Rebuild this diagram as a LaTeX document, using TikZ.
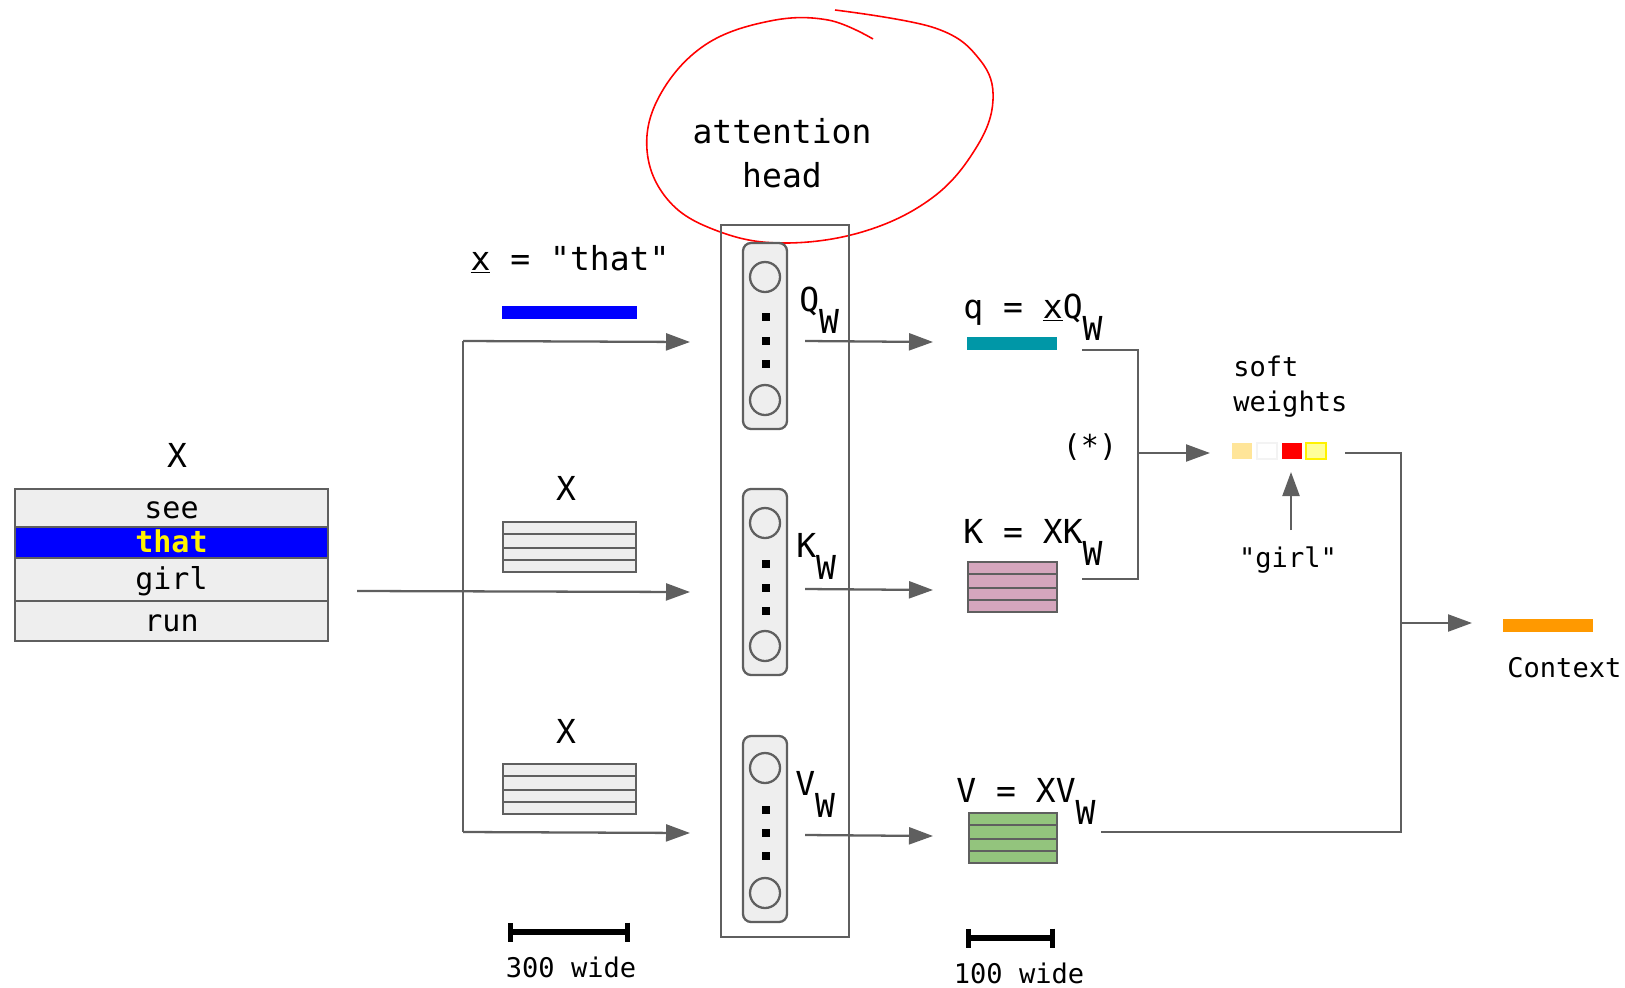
\documentclass[tikz,border=0pt]{standalone}
\usepackage{fontspec}
\setmonofont{DejaVu Sans Mono}
\renewcommand{\familydefault}{\ttdefault}
\usetikzlibrary{arrows.meta,positioning}

\definecolor{linegray}{HTML}{5F5F5F}
\definecolor{cellgray}{HTML}{EEEEEE}
\definecolor{qteal}{HTML}{0097A7}
\definecolor{kpink}{HTML}{D5A6BD}
\definecolor{vgreen}{HTML}{93C47D}
\definecolor{ctxorange}{HTML}{FF9900}
\definecolor{wsand}{HTML}{FFE599}
\definecolor{wpale}{HTML}{FFFF99}
\definecolor{wrim}{HTML}{F3F3F3}

\newcommand{\pxu}{0.02cm}
\newcommand{\bigtxt}{\fontsize{18.8}{25}\selectfont}
\newcommand{\midtxt}{\fontsize{17.1}{22}\selectfont}
\newcommand{\smalltxt}{\fontsize{15.4}{19.9}\selectfont}
\newcommand{\subw}{\raisebox{-0.68em}{W}}

\begin{document}
\begin{tikzpicture}[x=\pxu, y=-\pxu,
    ln/.style={draw=linegray, line width=1.3pt},
    arr/.style={ln, -{Triangle[length=0.48cm, width=0.34cm]}},
    cell/.style={ln, fill=cellgray, minimum width=313*\pxu, inner sep=0pt,
        font=\midtxt, text height=12.5pt, text depth=1pt},
    bar/.style={inner sep=0pt, minimum height=13*\pxu},
    wsq/.style={inner sep=0pt, minimum width=20*\pxu, minimum height=16*\pxu},
    lbl/.style={inner sep=0pt, anchor=base, font=\bigtxt},
    lblw/.style={lbl, anchor=base west},
    scalebar/.style={draw=black, line width=3pt, {Bar[width=0.38cm]}-{Bar[width=0.38cm]}}]
    \useasboundingbox (0,0) rectangle (1625,987);

    % input table X
    \node[lbl] (xtab) at (177,467) {X};
    \node[cell, minimum height=38*\pxu] (see) at (171.5,508) {see};
    \node[cell, minimum height=31*\pxu, fill=blue, text=yellow, font=\midtxt\bfseries] (that) at (171.5,542.5) {that};
    \node[cell, minimum height=43*\pxu] (girl) at (171.5,579.5) {girl};
    \node[cell, minimum height=40*\pxu] (run) at (171.5,621) {run};

    % inputs of the head
    \node[lbl] (xeq) at (570,270) {\underline{x} = "that"};
    \node[bar, fill=blue, minimum width=135*\pxu] (xbar) at (569.5,312.5) {};
    \node[lbl] (xk) at (566,500) {X};
    \node[lbl] (xv) at (566,743) {X};
    \foreach \mx/\my/\w/\col in {503/522/133/cellgray, 503/764/133/cellgray, 968/562/89/kpink, 969/813/88/vgreen} {
        \draw[ln, fill=\col] (\mx,\my) rectangle ++(\w,50);
        \foreach \dy in {12,26,38}
            \draw[ln] (\mx,\my+\dy) -- ++(\w,0);
    }

    \coordinate (qsplit) at (463,341);
    \coordinate (vsplit) at (463,832);
    \coordinate (tabout) at (357,591);
    \coordinate (qin) at (690,342);
    \coordinate (kin) at (690,592);
    \coordinate (vin) at (690,833);
    \draw[ln] (qsplit) -- (vsplit);
    \draw[arr] (qsplit) -- (qin);
    \draw[arr] (tabout) -- (kin);
    \draw[arr] (vsplit) -- (vin);

    % attention head
    \draw[red, line width=0.9pt] plot[smooth, tension=0.65] coordinates {(835,10) (935,28) (980,60) (993,100) (976,148) (932,198) (862,232) (780,243) (715,230) (668,200) (647,150) (660,95) (705,45) (770,21) (828,20) (873,39)};
    \node[inner sep=0pt, align=center, font=\bigtxt] (headlbl) at (782,153) {attention\\head};
    \node[ln, minimum width=128*\pxu, minimum height=712*\pxu, inner sep=0pt] (head) at (785,581) {};
    \foreach \nm/\cy in {qw/336, kw/582, vw/829}
        \node[ln, fill=cellgray, rounded corners=0.16cm, minimum width=44*\pxu, minimum height=186*\pxu, inner sep=0pt] (\nm) at (765,\cy) {};
    \foreach \cy in {277,400,523,646,768,893}
        \draw[ln, fill=cellgray] (765,\cy) circle[radius=15];
    \foreach \cy in {317,341,364,564,588,611,810,833,856}
        \fill (762,\cy-4) rectangle ++(8,8);
    \node[lblw] (qwl) at (799,311) {Q\subw};
    \node[lblw] (kwl) at (796,557) {K\subw};
    \node[lblw] (vwl) at (795,795) {V\subw};

    % q, K, V
    \coordinate (qout) at (805,341);
    \coordinate (kout) at (805,589);
    \coordinate (vout) at (805,835);
    \coordinate (qend) at (933,342);
    \coordinate (kend) at (933,590);
    \coordinate (vend) at (933,836);
    \draw[arr] (qout) -- (qend);
    \draw[arr] (kout) -- (kend);
    \draw[arr] (vout) -- (vend);
    \node[lblw] (qeq) at (963,318) {q = \underline{x}Q\subw};
    \node[bar, fill=qteal, minimum width=90*\pxu] (qbar) at (1012,343) {};
    \node[lblw] (keq) at (963,543) {K = XK\subw};
    \node[lblw] (veq) at (956,802) {V = XV\subw};

    % soft weights
    \coordinate (qtail) at (1082,350);
    \coordinate (ktail) at (1082,579);
    \coordinate (qkjoin) at (1138,453);
    \coordinate (wtip) at (1210,453);
    \draw[ln] (qtail) -- (qtail -| qkjoin) -- (ktail -| qkjoin) -- (ktail);
    \draw[arr] (qkjoin) -- (wtip);
    \node[inner sep=0pt, font=\midtxt] (star) at (1090,447) {(*)};
    \node[inner sep=0pt, anchor=west, align=left, font=\smalltxt] (softw) at (1233,387) {soft\\weights};
    \node[wsq, fill=wsand] (w1) at (1242,451) {};
    \node[wsq, fill=white, draw=wrim, line width=1pt] (w2) at (1267,451) {};
    \node[wsq, fill=red] (w3) at (1291.5,451) {};
    \node[wsq, fill=wpale, draw=yellow, line width=1.2pt] (w4) at (1316,451) {};
    \node[lbl, font=\smalltxt] (girllbl) at (1288,567) {"girl"};
    \coordinate (girlfoot) at (1291,530);
    \coordinate (girltip) at (1291,472);
    \draw[arr] (girlfoot) -- (girltip);

    % context
    \coordinate (wout) at (1345,453);
    \coordinate (ctxsplit) at (1401,623);
    \coordinate (vtail) at (1101,832);
    \coordinate (ctxin) at (1472,623);
    \draw[ln] (wout) -- (wout -| ctxsplit) -- (ctxsplit |- vtail) -- (vtail);
    \draw[arr] (ctxsplit) -- (ctxin);
    \node[bar, fill=ctxorange, minimum width=90*\pxu] (ctx) at (1548,625.5) {};
    \node[lblw, font=\smalltxt] (ctxlbl) at (1507,677) {Context};

    % scale bars
    \coordinate (s3l) at (508,932);
    \coordinate (s3r) at (630,932);
    \draw[scalebar] (s3l) -- (s3r);
    \node[lbl, font=\smalltxt] (s3) at (571,977) {300 wide};
    \coordinate (s1l) at (966,938);
    \coordinate (s1r) at (1055,938);
    \draw[scalebar] (s1l) -- (s1r);
    \node[lbl, font=\smalltxt] (s1) at (1019,983) {100 wide};
\end{tikzpicture}
\end{document}
